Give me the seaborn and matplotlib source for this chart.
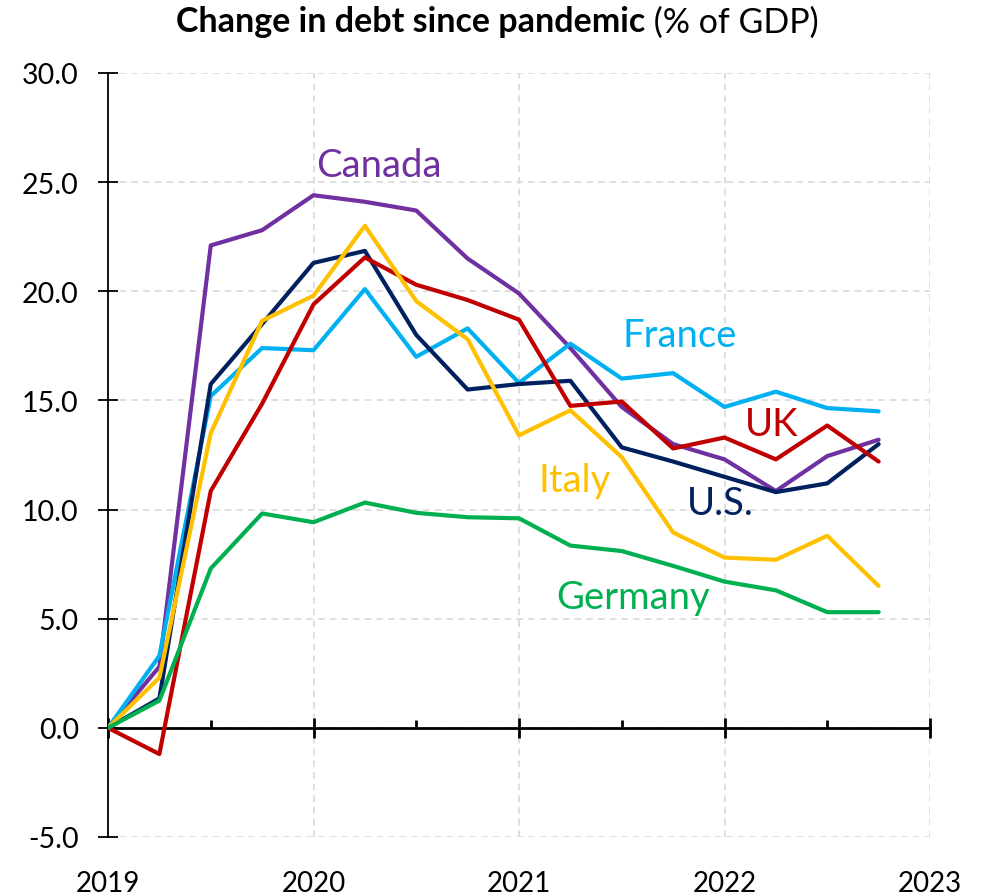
import matplotlib
matplotlib.use("Agg")
import matplotlib.pyplot as plt
from matplotlib.ticker import MultipleLocator, FormatStrFormatter
import numpy as np
import pandas as pd
import seaborn as sns

# Quarterly observations, 2019Q1 .. 2022Q4 (decimal years)
quarters = [2019.0 + 0.25 * i for i in range(16)]

canada = [0.0, 2.8, 22.1, 22.8, 24.4, 24.1, 23.7, 21.5, 19.9, 17.4, 14.7, 13.0, 12.3, 10.85, 12.45, 13.2]
france = [0.0, 3.3, 15.2, 17.4, 17.3, 20.1, 17.0, 18.3, 15.8, 17.6, 16.0, 16.25, 14.7, 15.4, 14.65, 14.5]
us = [0.0, 1.35, 15.75, 18.5, 21.3, 21.85, 18.0, 15.5, 15.75, 15.9, 12.85, 12.2, 11.5, 10.8, 11.2, 13.0]
uk = [0.0, -1.2, 10.85, 14.85, 19.4, 21.55, 20.3, 19.6, 18.7, 14.75, 14.95, 12.8, 13.3, 12.3, 13.85, 12.2]
italy = [0.0, 2.3, 13.5, 18.65, 19.8, 23.0, 19.55, 17.8, 13.4, 14.55, 12.4, 8.95, 7.8, 7.7, 8.8, 6.5]
germany = [0.0, 1.25, 7.3, 9.82, 9.42, 10.32, 9.85, 9.65, 9.6, 8.35, 8.1, 7.42, 6.7, 6.3, 5.3, 5.3]

countries = ["Canada", "France", "U.S.", "UK", "Italy", "Germany"]
series = [canada, france, us, uk, italy, germany]
colors = ["#7030A0", "#00B0F0", "#002060", "#C00000", "#FFC000", "#00B050"]

# Direct labels: (x, y) in data units
label_pos = {
    "Canada": (2020.32, 25.8),
    "France": (2021.78, 18.0),
    "UK": (2022.23, 13.9),
    "Italy": (2021.27, 11.35),
    "U.S.": (2021.98, 10.3),
    "Germany": (2021.555, 6.0),
}

year_ticks = [2019, 2020, 2021, 2022, 2023]

df = pd.DataFrame({
    "quarter": np.tile(quarters, len(countries)),
    "change": np.concatenate(series),
    "country": np.repeat(countries, len(quarters)),
})

sns.set_style("white")
plt.rcParams["font.family"] = ["Lato", "DejaVu Sans"]
plt.rcParams["text.color"] = "black"

fig = plt.figure(figsize=(9.81, 8.95), dpi=100)
ax = fig.add_axes([108 / 981, 1 - 838 / 895, (930 - 108) / 981, (838 - 74) / 895])

palette = dict(zip(countries, colors))
sns.lineplot(data=df, x="quarter", y="change", hue="country", palette=palette,
             hue_order=countries, linewidth=3.0, legend=False, ax=ax, zorder=3)

ax.set_xlim(2019, 2023)
ax.set_ylim(-5, 30)
ax.set_xlabel("")
ax.set_ylabel("")

ax.yaxis.set_major_locator(MultipleLocator(5))
ax.yaxis.set_major_formatter(FormatStrFormatter("%.1f"))
ax.set_xticks(year_ticks)
ax.set_xticklabels([str(y) for y in year_ticks])
ax.xaxis.set_minor_locator(MultipleLocator(0.5))

ax.grid(True, which="major", color="#D9D9D9", linestyle=(0, (4, 3)), linewidth=1.2, zorder=0)

for side in ["top", "right"]:
    ax.spines[side].set_visible(False)
ax.spines["bottom"].set_position(("data", 0))
ax.spines["bottom"].set_color("black")
ax.spines["bottom"].set_linewidth(2.0)
ax.spines["left"].set_color("black")
ax.spines["left"].set_linewidth(1.3)

ax.tick_params(axis="y", which="major", left=True, direction="inout", length=14, width=1.3,
               labelsize=20.5, pad=14, colors="black")
ax.tick_params(axis="x", which="major", bottom=True, direction="inout", length=14, width=2.0,
               labelsize=20, pad=95, colors="black")
ax.tick_params(axis="x", which="minor", bottom=True, direction="in", length=6, width=2.0,
               colors="black")

for name, color in zip(countries, colors):
    x, y = label_pos[name]
    ax.text(x, y, name, color=color, fontsize=27.5, ha="center", va="center", zorder=4)

# Title: bold lead followed by a regular unit note, centred as one line
t1 = fig.text(0, 0.975, "Change in debt since pandemic", fontsize=24.5, fontweight="bold",
              ha="left", va="center", color="black")
t2 = fig.text(0, 0.975, " (% of GDP)", fontsize=24.5, ha="left", va="center", color="black")
fig.canvas.draw()
r = fig.canvas.get_renderer()
w1 = t1.get_window_extent(r).width / fig.bbox.width
w2 = t2.get_window_extent(r).width / fig.bbox.width
start = 497 / 981 - (w1 + w2) / 2
t1.set_x(start)
t2.set_x(start + w1)

fig.savefig("out.png", dpi=100)
